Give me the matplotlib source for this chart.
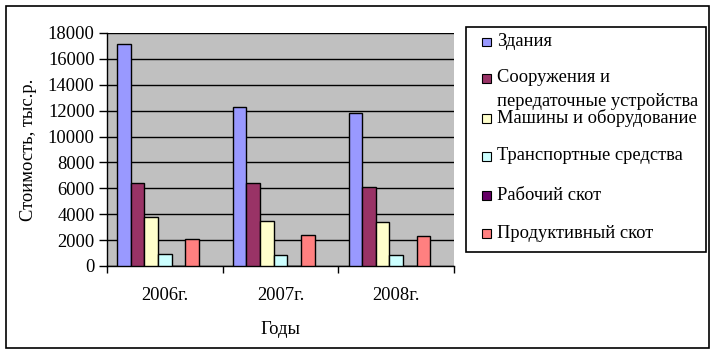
import matplotlib.pyplot as plt
import numpy as np
from matplotlib.patches import Rectangle

years = ["2006г.", "2007г.", "2008г."]
series = ["Здания", "Сооружения и\nпередаточные устройства", "Машины и оборудование",
          "Транспортные средства", "Рабочий скот", "Продуктивный скот"]
zdaniya = [17150, 12250, 11800]
sooruzheniya = [6400, 6400, 6130]
mashiny = [3820, 3450, 3370]
transport = [920, 830, 820]
rabochiy = [0, 0, 0]
produktivny = [2050, 2380, 2290]
colors = ["#9999FF", "#993366", "#FFFFCC", "#CCFFFF", "#660066", "#FF8080"]

values = [zdaniya, sooruzheniya, mashiny, transport, rabochiy, produktivny]

plt.rcParams['font.family'] = ['Liberation Serif', 'DejaVu Serif']
FS = 13.3
W, H = 716, 354
fig = plt.figure(figsize=(W / 100, H / 100), dpi=100)
ax = fig.add_axes([107 / W, 1 - 266 / H, (454 - 107) / W, (266 - 33) / H])
ax.set_facecolor("#C0C0C0")

x = np.arange(len(years))
w = 1 / 8.5
for i, (vals, c) in enumerate(zip(values, colors)):
    ax.bar(x + (i - 3) * w, vals, width=w, color=c, edgecolor="black", linewidth=1, zorder=3)

ax.set_xlim(-0.5, 2.5)
ax.set_ylim(0, 18000)
ax.set_yticks(np.arange(0, 18001, 2000))
ax.yaxis.grid(True, color="black", linewidth=1)
ax.set_axisbelow(True)
ax.set_xticks([-0.5, 0.5, 1.5, 2.5])
ax.set_xticklabels([])
ax.set_xticks(x, minor=True)
ax.set_xticklabels(years, minor=True, fontsize=FS)
ax.tick_params(axis="x", which="minor", length=0, pad=15)
ax.tick_params(axis="x", which="major", length=5, width=1)
ax.tick_params(axis="y", length=6, width=1, labelsize=FS, pad=3)
for s in ["top", "right"]:
    ax.spines[s].set_visible(False)
for s in ["left", "bottom"]:
    ax.spines[s].set_linewidth(1)
ax.set_xlabel("Годы", fontsize=FS, labelpad=12)
ax.set_ylabel("Стоимость, тыс.р.", fontsize=FS, labelpad=8)

# outer frame
fig.patches.append(Rectangle((6 / W, 1 - 348 / H), (709 - 6) / W, (348 - 6) / H,
                             transform=fig.transFigure, fill=False, edgecolor="black", linewidth=1.2))
# legend box
fig.patches.append(Rectangle((466 / W, 1 - 252 / H), (706 - 466) / W, (252 - 27) / H,
                             transform=fig.transFigure, fill=False, edgecolor="black", linewidth=1.2))
leg_y = [41.7, 78, 118.3, 156, 195, 233.3]
for name, c, yy in zip(series, colors, leg_y):
    fig.patches.append(Rectangle((482 / W, 1 - (yy + 4.5) / H), 8.5 / W, 8.5 / H,
                                 transform=fig.transFigure, facecolor=c, edgecolor="black", linewidth=0.8))
    lines = name.split("\n")
    for k, ln in enumerate(lines):
        fig.text(497 / W, 1 - (yy + k * 23.7) / H, ln, fontsize=FS, va="center", ha="left")

fig.savefig("out.png", dpi=100)
